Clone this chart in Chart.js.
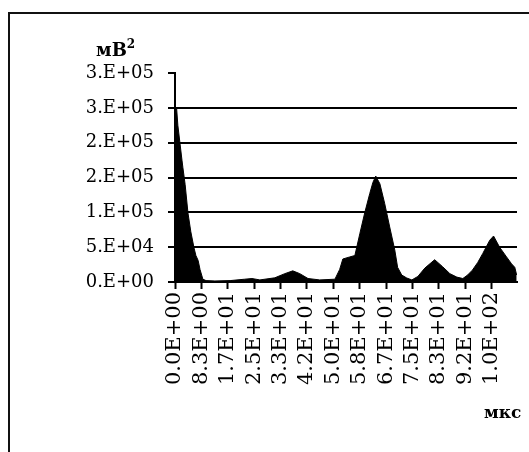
<!DOCTYPE html>
<html>
<head>
<meta charset="utf-8">
<script src="https://cdn.jsdelivr.net/npm/chart.js@4.4.1/dist/chart.umd.min.js"></script>
<style>
  body { margin: 0; background: #fff; }
  #frame { position: absolute; left: 8px; top: 12px; width: 600px; height: 600px;
           border-left: 2px solid #111; border-top: 2px solid #111; }
  #wrap { position: absolute; left: 0; top: 0; width: 529px; height: 452px; }
  .lbl { position: absolute; font-family: 'DejaVu Serif'; font-weight: bold; color: #000; line-height: 1; }
</style>
</head>
<body>
<div id="frame"></div>
<div id="wrap"><canvas id="chart" width="529" height="452"></canvas></div>
<div class="lbl" style="left:96px;top:41px;font-size:18px">мВ<span style="font-size:12px;position:relative;top:-8px">2</span></div>
<div class="lbl" style="left:484px;top:404px;font-size:17px">мкс</div>
<script>
// time, мкс
const times = [0, 0.5, 0.9, 1.6, 2.2, 2.5, 3.2, 4.1, 5.0, 6.0, 6.6, 7.3, 7.9, 8.8, 9.8,
  12.6, 17.4, 22.0, 24.3, 26.8, 31.5, 34.7, 37.2, 39.4, 42.0, 45.7, 50.5, 52.0, 53.0,
  55.2, 56.8, 58.4, 59.9, 61.5, 62.5, 63.4, 64.7, 66.2, 67.8, 69.4, 70.3, 71.6, 73.2,
  74.8, 76.7, 78.9, 82.0, 84.5, 86.8, 89.0, 90.9, 92.4, 93.9, 95.6, 97.2, 99.4, 100.6,
  102.5, 104.7, 106.3, 107.3, 107.9];
// power, мВ^2
const power = [245000, 250000, 225000, 198000, 175000, 164000, 140000, 99000, 72000, 49000, 38000, 31000, 18000, 4000, 2000,
  1500, 2000, 4000, 5000, 3000, 6000, 12000, 16000, 12000, 5000, 3000, 4000, 18000, 33000,
  36000, 38000, 70000, 99000, 127000, 143000, 152000, 141000, 113000, 79000, 46000, 21000, 10000, 5700,
  3000, 8000, 20000, 32000, 22000, 12000, 7000, 5000, 10000, 17000, 28000, 41000, 60000, 66000,
  50000, 36000, 26000, 21000, 10000];

const xTickLabels = ['0.0E+00', '8.3E+00', '1.7E+01', '2.5E+01', '3.3E+01', '4.2E+01', '5.0E+01',
  '5.8E+01', '6.7E+01', '7.5E+01', '8.3E+01', '9.2E+01', '1.0E+02'];
const xTickStep = 100 / 12;
const yTickLabels = ['0.E+00', '5.E+04', '1.E+05', '2.E+05', '2.E+05', '3.E+05', '3.E+05'];
const yTickStep = 50000;

const points = times.map((t, i) => ({ x: t, y: power[i] }));

new Chart(document.getElementById('chart'), {
  type: 'line',
  data: {
    datasets: [{
      data: points,
      fill: 'origin',
      backgroundColor: '#000',
      borderColor: '#000',
      borderWidth: 1,
      pointRadius: 0,
      tension: 0
    }]
  },
  options: {
    responsive: false,
    animation: false,
    layout: { padding: { left: 0, top: 73, right: 12, bottom: 0 } },
    plugins: { legend: { display: false }, tooltip: { enabled: false } },
    scales: {
      x: {
        type: 'linear',
        min: 0,
        max: 108,
        afterBuildTicks: (scale) => {
          scale.ticks = xTickLabels.map((_, i) => ({ value: i * xTickStep }));
        },
        afterFit: (scale) => { scale.height = 170; },
        ticks: {
          autoSkip: false,
          maxRotation: 90,
          minRotation: 90,
          padding: 3,
          color: '#000',
          font: { family: 'DejaVu Serif', size: 21 },
          callback: (v, i) => xTickLabels[i]
        },
        grid: { drawOnChartArea: false, drawTicks: true, tickLength: 7, tickColor: '#000', tickWidth: 2 },
        border: { color: '#000', width: 2 }
      },
      y: {
        min: 0,
        max: 300000,
        afterBuildTicks: (scale) => {
          scale.ticks = yTickLabels.map((_, i) => ({ value: i * yTickStep }));
        },
        afterFit: (scale) => { scale.width = 175; },
        ticks: {
          padding: 14,
          color: '#000',
          font: { family: 'DejaVu Serif', size: 18 },
          callback: (v, i) => yTickLabels[i]
        },
        grid: {
          color: (ctx) => ctx.index === yTickLabels.length - 1 ? 'rgba(0,0,0,0)' : '#000',
          lineWidth: 2,
          tickLength: 7,
          tickColor: '#000',
          tickWidth: 2
        },
        border: { color: '#000', width: 2 }
      }
    }
  }
});
</script>
</body>
</html>
